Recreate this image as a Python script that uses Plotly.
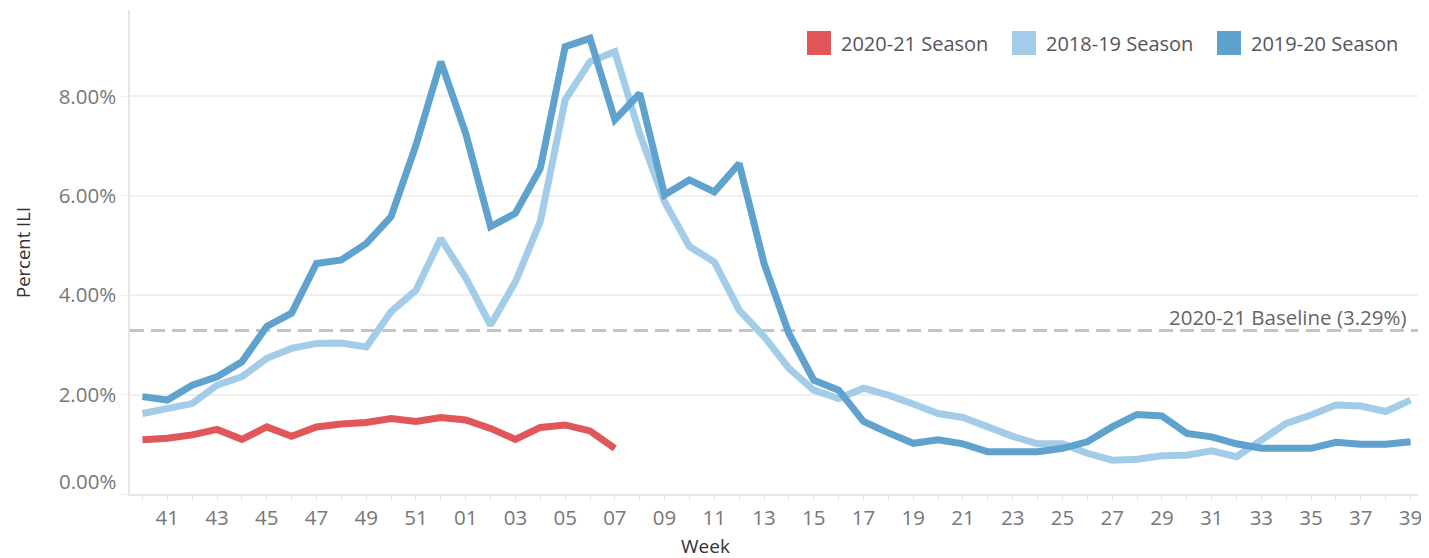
import plotly.graph_objects as go

weeks = [str(w) for w in range(40, 53)] + [f"{w:02d}" for w in range(1, 40)]

season_2020_21 = [1.09, 1.12, 1.19, 1.30, 1.10, 1.35, 1.16, 1.35, 1.41, 1.44, 1.52, 1.46, 1.54,
                  1.49, 1.32, 1.10, 1.34, 1.39, 1.27, 0.92]

season_2018_19 = [1.62, 1.72, 1.82, 2.19, 2.36, 2.73, 2.93, 3.03, 3.04, 2.96, 3.67, 4.10, 5.14,
                  4.35, 3.40, 4.27, 5.48, 7.93, 8.70, 8.90, 7.25, 5.88, 4.98, 4.67, 3.70, 3.17,
                  2.53, 2.09, 1.92, 2.13, 1.99, 1.81, 1.62, 1.54, 1.35, 1.16, 1.01, 1.01, 0.82,
                  0.68, 0.70, 0.77, 0.78, 0.87, 0.75, 1.09, 1.42, 1.59, 1.79, 1.77, 1.66, 1.89]

season_2019_20 = [1.96, 1.89, 2.19, 2.36, 2.66, 3.37, 3.64, 4.64, 4.71, 5.04, 5.58, 7.02, 8.70,
                  7.26, 5.38, 5.65, 6.55, 9.00, 9.17, 7.53, 8.06, 6.02, 6.32, 6.08, 6.65, 4.64,
                  3.23, 2.29, 2.09, 1.46, 1.23, 1.02, 1.09, 1.01, 0.85, 0.85, 0.85, 0.92, 1.05,
                  1.35, 1.60, 1.57, 1.22, 1.15, 1.01, 0.92, 0.92, 0.92, 1.04, 1.00, 1.00, 1.05]

baseline = 3.29
baseline_label = "2020-21 Baseline (3.29%)"

y_tickvals = [0, 2, 4, 6, 8]
y_ticktext = ["0.00%", "2.00%", "4.00%", "6.00%", "8.00%"]

series_names = ["2020-21 Season", "2018-19 Season", "2019-20 Season"]
colors = {"2020-21 Season": "#E15759", "2018-19 Season": "#A3CCE9", "2019-20 Season": "#5FA2CE"}
data_map = {"2020-21 Season": season_2020_21, "2018-19 Season": season_2018_19,
            "2019-20 Season": season_2019_20}

FONT = "Open Sans"

# page geometry (the html body adds an 8px offset)
OFF = 8
W, H = 1429 - OFF, 558 - OFF
PL, PR, PT, PB = 130, 1418, 10, 494   # plot area in page pixels
PW, PH = PR - PL, PB - PT


def px(x):
    return (x - PL) / PW


def py(y):
    return (PB - y) / PH


fig = go.Figure()

fig.add_shape(type="line", xref="paper", yref="y", x0=0, x1=1, y0=baseline, y1=baseline,
              line=dict(color="#C4C4C4", width=3, dash="14px,7px"), layer="below")

for name in ["2018-19 Season", "2019-20 Season", "2020-21 Season"]:
    vals = data_map[name]
    fig.add_trace(go.Scatter(x=weeks[:len(vals)], y=vals, mode="lines", name=name,
                             line=dict(color=colors[name], width=7), showlegend=False))

# custom legend (large square swatches like the reference)
legend_sq_left = [807, 1012, 1217]
for name, sx in zip(series_names, legend_sq_left):
    fig.add_shape(type="rect", xref="paper", yref="paper",
                  x0=px(sx), x1=px(sx + 24), y0=py(55), y1=py(31),
                  fillcolor=colors[name], line=dict(width=0))
    fig.add_annotation(x=px(sx + 32), xref="paper", y=py(43), yref="paper",
                       xanchor="left", yanchor="middle", text=name, showarrow=False,
                       font=dict(family=FONT, size=20, color="#555555"))

fig.add_annotation(x=px(1409), xref="paper", xanchor="right",
                   y=py(317), yref="paper", yanchor="middle",
                   text=baseline_label, showarrow=False,
                   font=dict(family=FONT, size=20.5, color="#666666"))

# the lowest y tick label sits lifted above the axis line, as in the reference
fig.add_annotation(x=px(119), xref="paper", xanchor="right", y=py(481), yref="paper",
                   yanchor="middle", text=y_ticktext[0], showarrow=False,
                   font=dict(family=FONT, size=20.5, color="#777777"))

fig.add_annotation(x=px(22), xref="paper", y=py(252), yref="paper", text="Percent ILI",
                   showarrow=False, textangle=-90, xanchor="center", yanchor="middle",
                   borderpad=0, font=dict(family=FONT, size=18.5, color="#333333"))
fig.add_annotation(x=px(705), xref="paper", y=py(546), yref="paper",
                   text="Week", showarrow=False, xanchor="center", yanchor="middle",
                   font=dict(family=FONT, size=19, color="#333333"))

ticktext = [w if i % 2 == 1 else "" for i, w in enumerate(weeks)]

fig.update_layout(
    width=W, height=H,
    margin=dict(l=PL - OFF, r=W - (PR - OFF), t=PT - OFF, b=H - (PB - OFF)),
    paper_bgcolor="white", plot_bgcolor="white",
    font=dict(family=FONT, color="#666666"),
    showlegend=False,
    xaxis=dict(type="category", categoryorder="array", categoryarray=weeks,
               range=[-0.5, 51.3], tickmode="array", tickvals=weeks, ticktext=ticktext,
               ticks="outside", ticklen=5, tickcolor="#E6E6E6", tickwidth=1,
               showline=True, linecolor="#E6E6E6", linewidth=1.5,
               showgrid=False, zeroline=False, automargin=False,
               tickfont=dict(family=FONT, size=20.5, color="#777777")),
    yaxis=dict(range=[0, 9.74], tickvals=y_tickvals,
               ticktext=[""] + y_ticktext[1:],
               showgrid=True, gridcolor="#F0F0F0", gridwidth=1.5,
               showline=True, linecolor="#E6E6E6", linewidth=1.5,
               ticks="outside", ticklen=8, tickcolor="#EEEEEE",
               zeroline=False, automargin=False,
               tickfont=dict(family=FONT, size=20.5, color="#777777")),
)

fig.write_html("out.html")
